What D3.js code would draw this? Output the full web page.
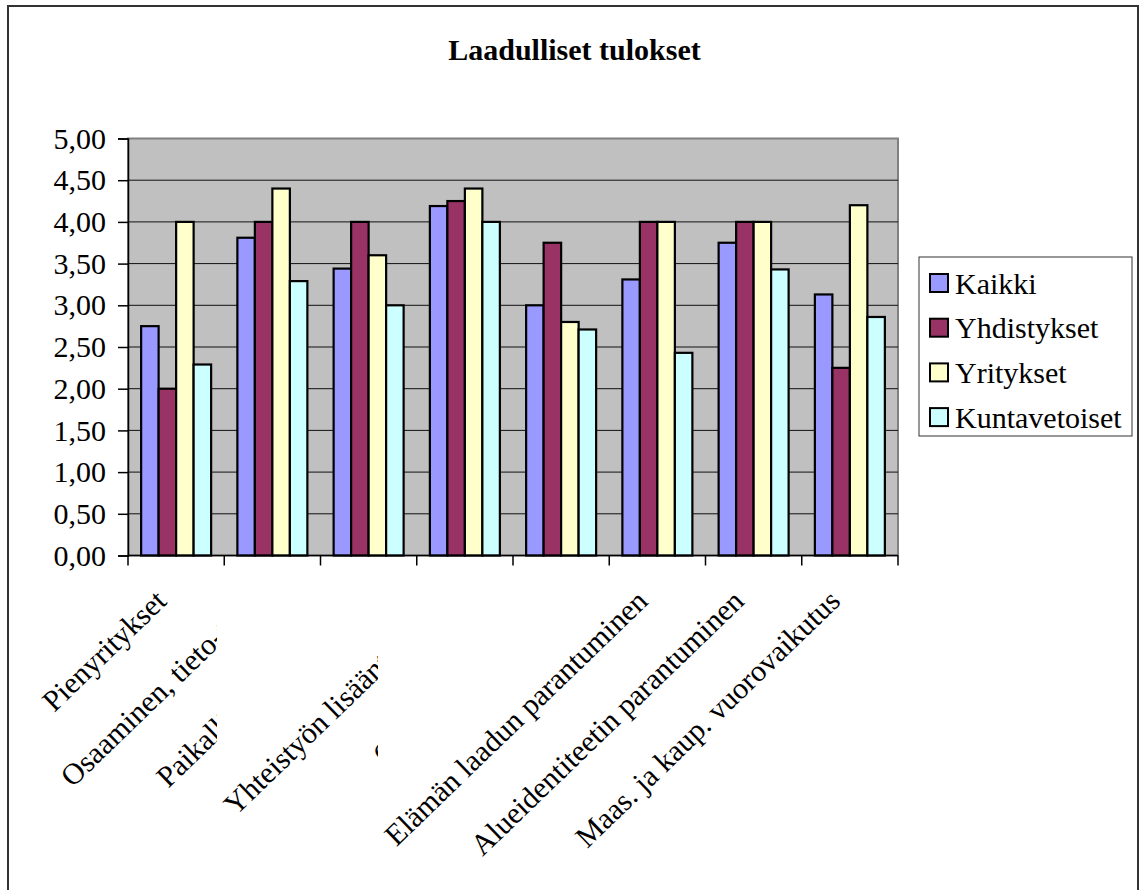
<!DOCTYPE html>
<html>
<head>
<meta charset="utf-8">
<script src="https://cdn.jsdelivr.net/npm/d3@7"></script>
<style>
  body { margin: 0; background: #fff; }
  svg text { font-family: "Liberation Serif", "Times New Roman", serif; fill: #000; }
</style>
</head>
<body>
<div class="chart"></div>
<script>
// data
const categories = [
  'Pienyritykset',
  'Osaaminen, tieto-taito',
  'Paikallisuuden edistys',
  'Yhteistyön lisääntyminen',
  'Osallisuuden kasvu',
  'Elämän laadun parantuminen',
  'Alueidentiteetin parantuminen',
  'Maas. ja kaup. vuorovaikutus'
];
const seriesNames = ['Kaikki', 'Yhdistykset', 'Yritykset', 'Kuntavetoiset'];
const kaikki = [2.75, 3.81, 3.44, 4.19, 3.00, 3.31, 3.75, 3.13];
const yhdistykset = [2.00, 4.00, 4.00, 4.25, 3.75, 4.00, 4.00, 2.25];
const yritykset = [4.00, 4.40, 3.60, 4.40, 2.80, 4.00, 4.00, 4.20];
const kuntavetoiset = [2.29, 3.29, 3.00, 4.00, 2.71, 2.43, 3.43, 2.86];
const yTicks = [0, 0.5, 1, 1.5, 2, 2.5, 3, 3.5, 4, 4.5, 5];

const seriesValues = [kaikki, yhdistykset, yritykset, kuntavetoiset];
const colors = ['#9999FF', '#993366', '#FFFFCC', '#CCFFFF'];

// layout
const W = 1141, H = 890;
const FONT = '"Liberation Serif", "Times New Roman", serif';
const plot = { left: 128, right: 898, top: 138.5, bottom: 555.5 };
// Excel cut off some of the long axis labels; right edge of the visible part
const labelClip = [null, 217, 217, 378, 378, null, null, null];

const svg = d3.select('.chart')
  .append('svg')
  .attr('width', W)
  .attr('height', H);

// outer chart border
svg.append('rect')
  .attr('x', 8).attr('y', 6)
  .attr('width', 1130).attr('height', 900)
  .attr('fill', '#fff')
  .attr('stroke', '#333')
  .attr('stroke-width', 2);

// title
svg.append('text')
  .attr('x', 574.5)
  .attr('y', 60)
  .attr('text-anchor', 'middle')
  .style('font-family', FONT)
  .style('font-size', '30px')
  .style('font-weight', 'bold')
  .text('Laadulliset tulokset');

const x0 = d3.scaleBand()
  .domain(categories)
  .range([plot.left, plot.right])
  .paddingInner(0)
  .paddingOuter(0);

// gap width 150% -> bars take 4 / 5.5 of the band
const x1 = d3.scaleBand()
  .domain(seriesNames)
  .range([x0.bandwidth() * 0.75 / 5.5, x0.bandwidth() - x0.bandwidth() * 0.75 / 5.5]);

const y = d3.scaleLinear()
  .domain([0, 5])
  .range([plot.bottom, plot.top]);

// plot area
svg.append('rect')
  .attr('x', plot.left)
  .attr('y', plot.top)
  .attr('width', plot.right - plot.left)
  .attr('height', plot.bottom - plot.top)
  .attr('fill', '#C0C0C0')
  .attr('stroke', '#808080')
  .attr('stroke-width', 2);

// gridlines
svg.append('g')
  .selectAll('line')
  .data(yTicks.slice(1, -1))
  .enter()
  .append('line')
  .attr('x1', plot.left)
  .attr('x2', plot.right)
  .attr('y1', d => y(d))
  .attr('y2', d => y(d))
  .attr('stroke', '#111')
  .attr('stroke-width', 1);

// bars
const groups = svg.append('g')
  .selectAll('g')
  .data(categories)
  .enter()
  .append('g')
  .attr('transform', d => 'translate(' + x0(d) + ',0)');

groups.selectAll('rect')
  .data((d, i) => seriesNames.map((s, j) => ({ s: s, v: seriesValues[j][i], c: colors[j] })))
  .enter()
  .append('rect')
  .attr('x', d => x1(d.s))
  .attr('y', d => y(d.v))
  .attr('width', x1.bandwidth())
  .attr('height', d => y(0) - y(d.v))
  .attr('fill', d => d.c)
  .attr('stroke', '#000')
  .attr('stroke-width', 2.2);

// y axis
const yAxis = d3.axisLeft(y)
  .tickValues(yTicks)
  .tickSize(10)
  .tickPadding(12)
  .tickFormat(d => d3.format('.2f')(d).replace('.', ','));

const ya = svg.append('g')
  .attr('transform', 'translate(' + plot.left + ',0)')
  .call(yAxis);
ya.attr('font-family', null).attr('font-size', null);
ya.select('.domain').attr('stroke', '#000').attr('stroke-width', 1.5);
ya.selectAll('.tick line').attr('stroke', '#000').attr('stroke-width', 1.5);
ya.selectAll('.tick text')
  .attr('fill', '#000')
  .style('font-family', FONT)
  .style('font-size', '30px');

// x axis
const xa = svg.append('g')
  .attr('transform', 'translate(0,' + plot.bottom + ')');
xa.append('line')
  .attr('x1', plot.left).attr('x2', plot.right)
  .attr('stroke', '#000').attr('stroke-width', 1.5);
xa.selectAll('.xtick')
  .data(d3.range(categories.length + 1))
  .enter()
  .append('line')
  .attr('x1', i => plot.left + i * x0.step())
  .attr('x2', i => plot.left + i * x0.step())
  .attr('y1', 0)
  .attr('y2', 10)
  .attr('stroke', '#000')
  .attr('stroke-width', 1.5);

const defs = svg.append('defs');
labelClip.forEach((c, i) => {
  if (c === null) return;
  defs.append('clipPath')
    .attr('id', 'clip-' + i)
    .append('rect')
    .attr('x', 0).attr('y', 0)
    .attr('width', c).attr('height', H);
});

svg.append('g')
  .selectAll('g')
  .data(categories)
  .enter()
  .append('g')
  .attr('clip-path', (d, i) => labelClip[i] === null ? null : 'url(#clip-' + i + ')')
  .append('text')
  .attr('text-anchor', 'end')
  .attr('transform', d => 'translate(' + (x0(d) + x0.bandwidth() / 2 - 8) + ',' + (plot.bottom + 47.5) + ') rotate(-44)')
  .style('font-family', FONT)
  .style('font-size', '30px')
  .text(d => d);

// legend
const legend = svg.append('g');
legend.append('rect')
  .attr('x', 919).attr('y', 257)
  .attr('width', 213).attr('height', 179)
  .attr('fill', '#fff')
  .attr('stroke', '#333')
  .attr('stroke-width', 1);

const items = legend.selectAll('.item')
  .data(seriesNames)
  .enter()
  .append('g')
  .attr('transform', (d, i) => 'translate(930,' + (283 + i * 44.7) + ')');
items.append('rect')
  .attr('x', 0).attr('y', -9)
  .attr('width', 18).attr('height', 18)
  .attr('fill', (d, i) => colors[i])
  .attr('stroke', '#000')
  .attr('stroke-width', 2);
items.append('text')
  .attr('x', 25)
  .attr('dy', '0.35em')
  .style('font-family', FONT)
  .style('font-size', '30px')
  .text(d => d);
</script>
</body>
</html>
